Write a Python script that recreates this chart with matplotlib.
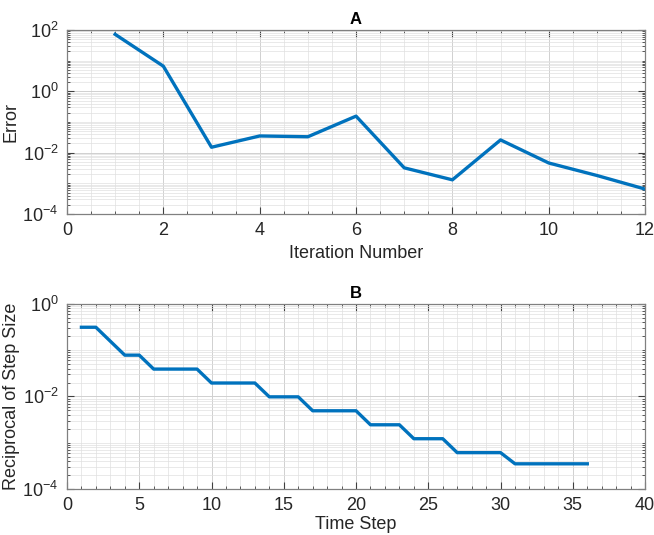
import numpy as np
import matplotlib
matplotlib.use("Agg")
import matplotlib.pyplot as plt
from matplotlib.ticker import LogLocator, MultipleLocator, NullFormatter

plt.rcParams['font.family'] = ['Liberation Sans', 'DejaVu Sans']
plt.rcParams['mathtext.fontset'] = 'custom'
plt.rcParams['mathtext.rm'] = 'Liberation Sans'

# panel A: error per iteration
iterations = [1, 2, 3, 4, 5, 6, 7, 8, 9, 10, 11, 12]
error = [72, 6.6, 0.015, 0.035, 0.033, 0.155, 0.0032, 0.0013, 0.026, 0.0046, 0.0018, 0.00065]

# panel B: reciprocal of step size per time step
time_step = list(range(1, 37))
recip_step = ([0.3125, 0.3125, 0.156, 0.078, 0.078]
              + [0.039] * 4 + [0.0195] * 4 + [0.0098] * 3 + [0.0049] * 4
              + [0.00244] * 3 + [0.00122] * 3 + [0.00061] * 4 + [0.00035] * 6)

blue = '#0072BD'
frame = '#404040'
txt = '#262626'


def style_axes(ax, xmajor, xminor, ymin, ymax):
    ax.set_yscale('log')
    ax.set_ylim(ymin, ymax)
    ax.xaxis.set_major_locator(MultipleLocator(xmajor))
    ax.xaxis.set_minor_locator(MultipleLocator(xminor))
    lo, hi = int(np.log10(ymin)), int(np.log10(ymax))
    ax.set_yticks([10.0 ** k for k in range(lo, hi + 1, 2)])
    ax.yaxis.set_minor_locator(LogLocator(base=10, subs=np.arange(1, 10), numticks=20))
    ax.yaxis.set_minor_formatter(NullFormatter())
    ax.grid(True, which='major', color='#d0d0d0', lw=0.7)
    ax.grid(True, which='minor', color='#e0e0e0', lw=0.5)
    ax.set_axisbelow(True)
    ax.tick_params(which='both', direction='in', top=True, right=True,
                   colors=frame, labelcolor=txt, labelsize=13)
    ax.tick_params(which='major', length=5, pad=6)
    ax.tick_params(which='minor', length=2.5)
    for s in ax.spines.values():
        s.set_color('#808080')
        s.set_linewidth(0.9)


fig = plt.figure(figsize=(6.54, 5.35), dpi=100)
ax1 = fig.add_axes([0.1024, 0.600, 0.884, 0.344])
ax2 = fig.add_axes([0.1024, 0.086, 0.884, 0.346])

ax1.plot(iterations, error, color=blue, lw=2.4)
ax1.set_xlim(0, 12)
style_axes(ax1, 2, 0.5, 1e-4, 1e2)
ax1.set_xlabel('Iteration Number', fontsize=13, color=txt, labelpad=4)
ax1.set_ylabel('Error', fontsize=13, color=txt, labelpad=2)
ax1.set_title('A', fontsize=12, fontweight='bold', pad=4)

ax2.plot(time_step, recip_step, color=blue, lw=2.4)
ax2.set_xlim(0, 40)
style_axes(ax2, 5, 1, 1e-4, 1e0)
ax2.set_xlabel('Time Step', fontsize=13, color=txt, labelpad=1)
ax2.set_ylabel('Reciprocal of Step Size', fontsize=13, color=txt, labelpad=2)
ax2.set_title('B', fontsize=12, fontweight='bold', pad=4)

fig.savefig('out.png', dpi=100)
